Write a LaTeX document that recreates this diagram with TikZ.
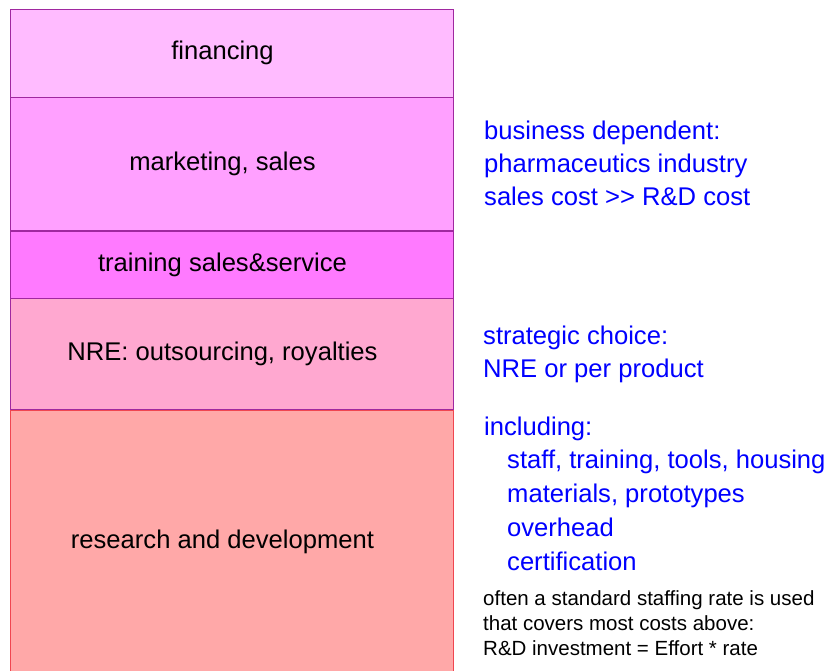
\documentclass[tikz,border=0pt]{standalone}
\usepackage{fontspec}
\setmainfont{Liberation Sans}
\usetikzlibrary{calc}
\usetikzlibrary{positioning}
\definecolor{finfill}{RGB}{255,187,255}
\definecolor{mktfill}{RGB}{255,160,255}
\definecolor{trnfill}{RGB}{255,122,255}
\definecolor{nrefill}{RGB}{255,168,208}
\definecolor{rdfill}{RGB}{255,168,168}
\definecolor{layerline}{RGB}{160,40,160}
\definecolor{rdline}{RGB}{240,70,80}
\tikzstyle{layer} = [draw=layerline, rectangle, minimum width=443pt, inner sep=0pt, anchor=north, font=\fontsize{25.6}{30}\selectfont, execute at begin node={\hspace*{-18pt}}]
\tikzstyle{note} = [text=blue, anchor=base west, align=left, inner sep=0pt, font=\fontsize{25.6}{33}\selectfont]
\tikzstyle{smallnote} = [anchor=base west, align=left, inner sep=0pt, font=\fontsize{20.5}{25}\selectfont]

\begin{document}
\begin{tikzpicture}[x=1pt, y=-1pt]
    \useasboundingbox (0,0) rectangle (828,670);
    \clip (0,0) rectangle (828,670);

    \node[layer, fill=finfill, minimum height=88pt] (financing) at (231.5,9) {financing};
    \node[layer, fill=mktfill, minimum height=133pt] (marketing) at (financing.south) {marketing, sales};
    \node[layer, fill=trnfill, minimum height=67pt] (training) at (marketing.south) {training sales\&service};
    \node[layer, fill=nrefill, minimum height=111pt] (nre) at (training.south) {NRE: outsourcing, royalties};
    \node[layer, draw=rdline, fill=rdfill, minimum height=264pt] (rnd) at (nre.south) {research and development};

    % base anchor sits on the last line
    \node[note] (business) at (484,205) {business dependent:\\pharmaceutics industry\\sales cost >\kern0pt> R\&D cost};
    \node[note] (strategic) at (483,377) {strategic choice:\\NRE or per product};
    \node[note, font=\fontsize{25.6}{33.7}\selectfont] (including) at (484,570)
{including:\\\hspace*{23pt}staff, training, tools, housing\\\hspace*{23pt}materials, prototypes\\\hspace*{23pt}overhead\\\hspace*{23pt}certification};
    \node[smallnote] (rate) at (483,655)
{often a standard staffing rate is used\\that covers most costs above:\\R\&D investment = Effort * rate};
\end{tikzpicture}
\end{document}
